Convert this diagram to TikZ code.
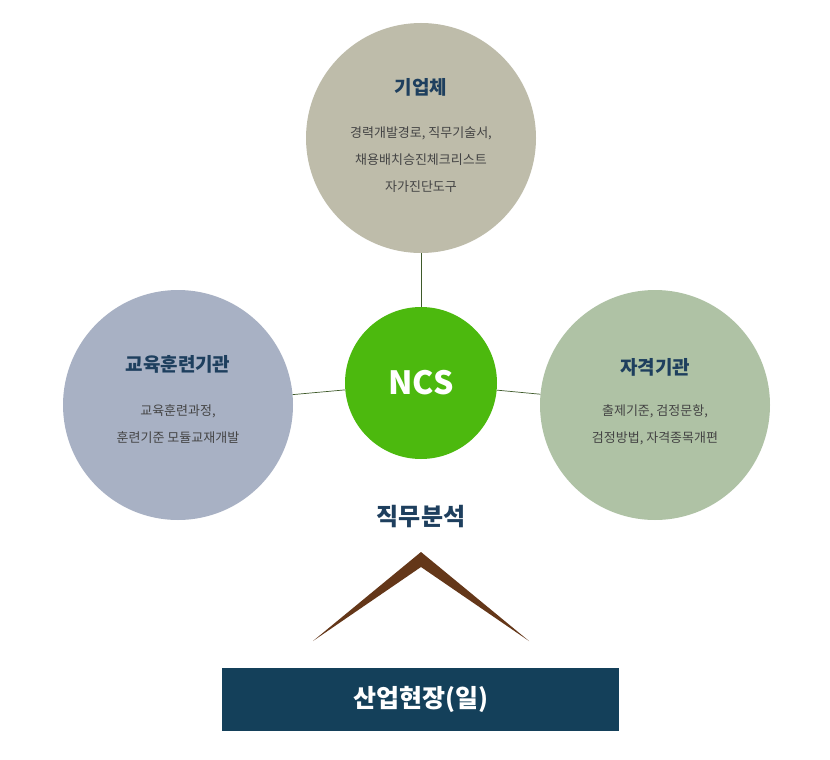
\documentclass[tikz,border=0pt]{standalone}
\usepackage{fontspec}
\setmainfont{Noto Sans CJK KR}
\begin{document}
\begin{tikzpicture}[x=1pt,y=-1pt,
  circ/.style={circle,minimum size=230pt,inner sep=0},
  ttl/.style={font=\fontsize{19}{22}\selectfont\bfseries,text=ttlc},
  body/.style={font=\fontsize{13}{27}\selectfont,text=bodyc,align=center},
  con/.style={draw=conc,line width=0.7pt}]
\definecolor{ttlc}{HTML}{1E3F5E}
\definecolor{bodyc}{HTML}{444444}
\definecolor{conc}{HTML}{3E5A2A}
\definecolor{ctop}{RGB}{190,188,170}
\definecolor{cleft}{RGB}{168,177,196}
\definecolor{cright}{RGB}{175,194,165}
\definecolor{cncs}{RGB}{76,185,14}
\definecolor{cbrown}{RGB}{100,55,25}
\definecolor{cbase}{RGB}{20,64,90}
\useasboundingbox (0,0) rectangle (830,760);
\fill[white] (0,0) rectangle (830,760);
\node[circ,fill=ctop] (top) at (421,138) {};
\node[circ,fill=cleft] (left) at (178,405) {};
\node[circ,fill=cright] (right) at (655,405) {};
\node[circle,minimum size=152pt,inner sep=0,fill=cncs] (ncs) at (421,383) {};
\draw[con] (top.south) -- (ncs.north);
\draw[con] (left) -- (ncs);
\draw[con] (right) -- (ncs);
\node[font=\fontsize{32}{36}\selectfont\bfseries,text=white] (ncst) at (421,383) {NCS};
\node[ttl] (tt) at (421,87) {기업체};
\node[body] (tb) at (421,160) {경력개발경로, 직무기술서,\\채용배치승진체크리스트\\자가진단도구};
\node[ttl] (lt) at (178,364) {교육훈련기관};
\node[body] (lb) at (178,424) {교육훈련과정,\\훈련기준 모듈교재개발};
\node[ttl] (rt) at (655,367) {자격기관};
\node[body] (rb) at (655,425) {출제기준, 검정문항,\\검정방법, 자격종목개편};
\node[font=\fontsize{24}{28}\selectfont\bfseries,text=ttlc] (job) at (421,517) {직무분석};
\fill[cbrown] (313,641) -- (421,552) -- (529,641) -- (421,567) -- cycle;
\node[fill=cbase,minimum width=397pt,minimum height=63pt,inner sep=0,
  font=\fontsize{25}{28}\selectfont\bfseries,text=white] (base) at (420.5,699.5) {산업현장(일)};
\end{tikzpicture}
\end{document}
